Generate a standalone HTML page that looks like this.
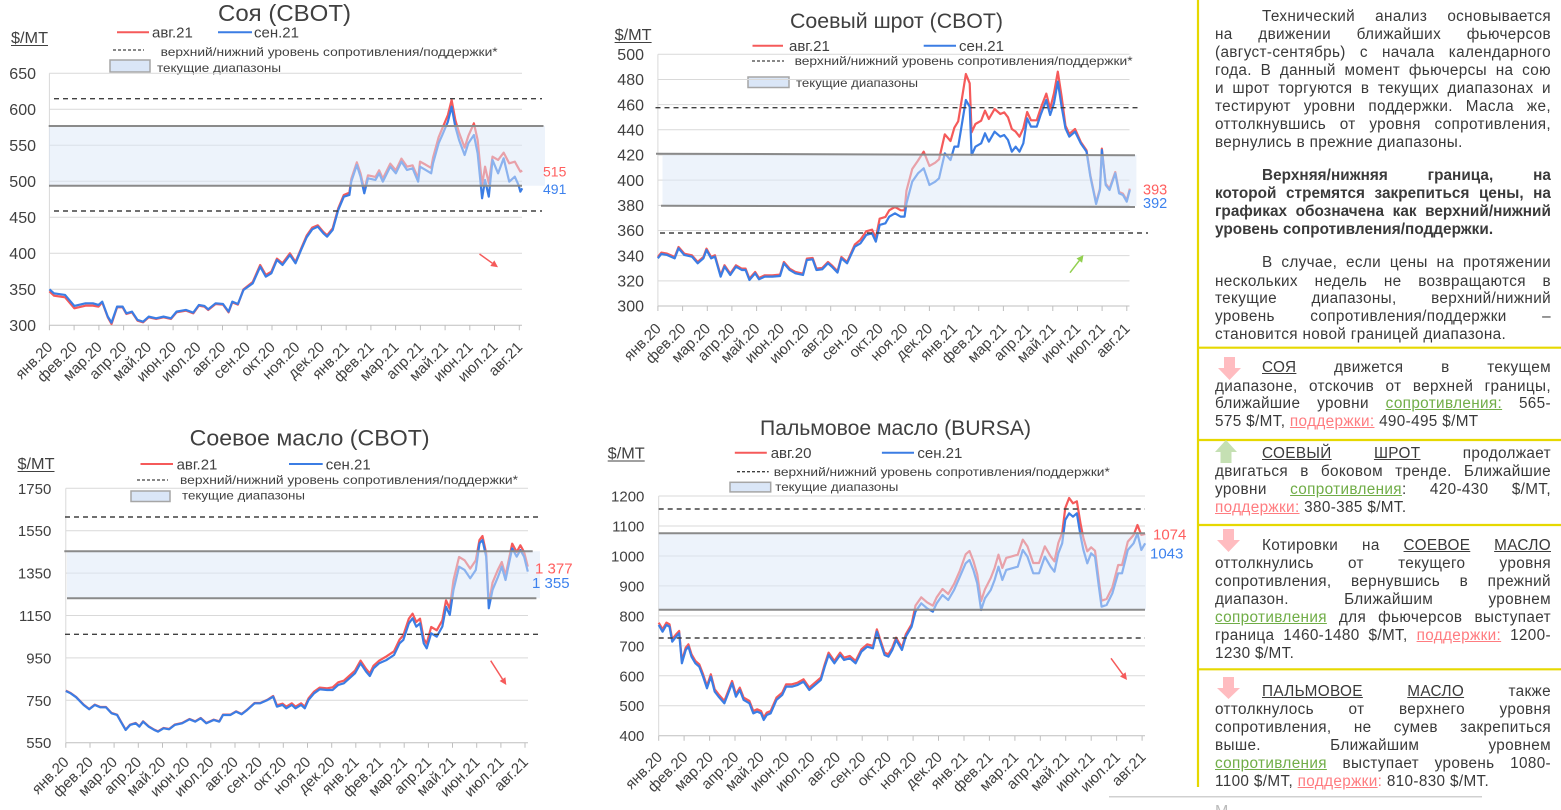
<!DOCTYPE html>
<html><head><meta charset="utf-8">
<style>
html,body{margin:0;padding:0;background:#fff;}
body{width:1561px;height:810px;overflow:hidden;position:relative;font-family:"Liberation Sans",sans-serif;}
svg text{font-family:"Liberation Sans",sans-serif;}
.ml{font-size:15px;fill:#404040;text-anchor:end}
.yl{font-size:16px;fill:#404040;text-anchor:end}
.yl2{font-size:15px;fill:#404040;text-anchor:end}
.g{stroke:#d9d9d9;stroke-width:1}
.ax{stroke:#bfbfbf;stroke-width:1;fill:none}
.d{stroke:#404040;stroke-width:1.4;stroke-dasharray:5 4}
.bl{stroke:#8a8a8a;stroke-width:2}
.band{fill:#dbe7f8;fill-opacity:.5}
.sr{fill:none;stroke:#f55a5a;stroke-width:2.2;stroke-linejoin:round;vector-effect:non-scaling-stroke}
.sb{fill:none;stroke:#3b7de4;stroke-width:2.2;stroke-linejoin:round;vector-effect:non-scaling-stroke}
.tt{fill:#404040}
.lg{font-size:15px;fill:#404040}
.ls{font-size:12px;fill:#404040}
.p{position:absolute;left:1215px;width:336px;height:18px;line-height:18px;font-size:15.3px;color:#3a3a3a;display:flex;justify-content:space-between;white-space:nowrap;letter-spacing:0.35px}
.p span{white-space:nowrap}
.i{left:1262px;width:289px}
.e{display:block}
.b{font-weight:bold;letter-spacing:0.05px}
.gr{color:#70ad47;text-decoration:underline}
.rd{color:#ff7c80;text-decoration:underline}
.u{text-decoration:underline}
</style></head>
<body>
<svg width="1561" height="810" style="position:absolute;left:0;top:0">
<!-- ============ CHART 1 ============ -->
<text x="218" y="21" font-size="23" class="tt" textLength="133" lengthAdjust="spacingAndGlyphs">Соя (CBOT)</text>
<text x="11" y="43" font-size="16" class="tt" textLength="37" lengthAdjust="spacingAndGlyphs">$/MT</text>
<line x1="11" y1="45.5" x2="48" y2="45.5" stroke="#404040" stroke-width="1"/>
<line x1="117" y1="32.3" x2="149" y2="32.3" stroke="#f55a5a" stroke-width="2"/>
<text x="152" y="37.5" class="lg">авг.21</text>
<line x1="218" y1="32.3" x2="252" y2="32.3" stroke="#3b7de4" stroke-width="2"/>
<text x="254" y="37.5" class="lg">сен.21</text>
<line x1="113" y1="50" x2="144" y2="50" stroke="#404040" stroke-width="1.3" stroke-dasharray="3 2"/>
<text x="160.6" y="56" class="ls" textLength="337" lengthAdjust="spacingAndGlyphs">верхний/нижний уровень сопротивления/поддержки*</text>
<rect x="110" y="60" width="40" height="12" fill="#dae6f7" stroke="#a6a6a6" stroke-width="1.5"/>
<text x="157" y="72" class="ls" textLength="124" lengthAdjust="spacingAndGlyphs">текущие диапазоны</text>
<g class="g">
<line x1="49.4" x2="522" y1="289.3" y2="289.3"/><line x1="49.4" x2="522" y1="253.3" y2="253.3"/>
<line x1="49.4" x2="522" y1="217.3" y2="217.3"/><line x1="49.4" x2="522" y1="181.3" y2="181.3"/>
<line x1="49.4" x2="522" y1="145.3" y2="145.3"/><line x1="49.4" x2="522" y1="109.3" y2="109.3"/>
<line x1="49.4" x2="522" y1="73.3" y2="73.3"/>
<line x1="49.4" x2="49.4" y1="73.3" y2="325.3"/>
</g>
<line x1="49.4" x2="522" y1="325.3" y2="325.3" class="ax"/>
<path class="ax" d="M49.4,325.3v5M74.1,325.3v5M98.9,325.3v5M123.6,325.3v5M148.3,325.3v5M173.1,325.3v5M197.8,325.3v5M222.5,325.3v5M247.2,325.3v5M272,325.3v5M296.7,325.3v5M321.4,325.3v5M346.2,325.3v5M370.9,325.3v5M395.6,325.3v5M420.4,325.3v5M445.1,325.3v5M469.8,325.3v5M494.5,325.3v5M519.3,325.3v5"/>
<text class="yl" x="36" y="79">650</text><text class="yl" x="36" y="115">600</text>
<text class="yl" x="36" y="151">550</text><text class="yl" x="36" y="187">500</text>
<text class="yl" x="36" y="223">450</text><text class="yl" x="36" y="259">400</text>
<text class="yl" x="36" y="295">350</text><text class="yl" x="36" y="331">300</text>
<g class="ml">
<text transform="translate(53.4,348) rotate(-45)">янв.20</text>
<text transform="translate(78.1,348) rotate(-45)">фев.20</text>
<text transform="translate(102.9,348) rotate(-45)">мар.20</text>
<text transform="translate(127.6,348) rotate(-45)">апр.20</text>
<text transform="translate(152.3,348) rotate(-45)">май.20</text>
<text transform="translate(177.1,348) rotate(-45)">июн.20</text>
<text transform="translate(201.8,348) rotate(-45)">июл.20</text>
<text transform="translate(226.5,348) rotate(-45)">авг.20</text>
<text transform="translate(251.2,348) rotate(-45)">сен.20</text>
<text transform="translate(276,348) rotate(-45)">окт.20</text>
<text transform="translate(300.7,348) rotate(-45)">ноя.20</text>
<text transform="translate(325.4,348) rotate(-45)">дек.20</text>
<text transform="translate(350.2,348) rotate(-45)">янв.21</text>
<text transform="translate(374.9,348) rotate(-45)">фев.21</text>
<text transform="translate(399.6,348) rotate(-45)">мар.21</text>
<text transform="translate(424.4,348) rotate(-45)">апр.21</text>
<text transform="translate(449.1,348) rotate(-45)">май.21</text>
<text transform="translate(473.8,348) rotate(-45)">июн.21</text>
<text transform="translate(498.5,348) rotate(-45)">июл.21</text>
<text transform="translate(523.3,348) rotate(-45)">авг.21</text>
</g>
<g transform="scale(0.3717,0.3333)">
<polyline class="sr" points="133,874 145,887 175,892 200,925 230,917 250,917 265,920 275,907 290,952 300,972 315,922 330,922 340,942 355,937 370,962 385,967 400,952 420,957 440,952 460,957 475,937 500,932 520,940 535,917 550,920 560,930 580,912 600,914 615,937 625,907 640,914 655,868 680,846 700,795 715,825 730,815 745,776 760,790 780,760 795,786 810,746 825,707 840,683 855,676 870,696 880,706 895,685 910,625 925,585 940,578 945,537 960,487 970,520 980,570 990,526 1010,531 1020,511 1030,536 1050,491 1065,511 1080,476 1095,500 1110,496 1125,535 1130,485 1145,494 1160,504 1165,473 1180,412 1190,385 1205,345 1215,300 1225,360 1235,398 1250,443 1260,408 1275,370 1285,420 1297,555 1305,500 1315,550 1325,470 1340,480 1355,458 1370,490 1385,485 1395,505 1400,515 1405,512"/>
<polyline class="sb" points="133,868 145,880 175,885 200,918 230,910 250,910 265,915 275,905 290,950 300,968 315,920 330,920 340,940 355,935 370,960 385,965 400,950 420,955 440,950 460,955 475,935 500,930 520,938 535,915 550,918 560,928 580,910 600,912 615,935 625,905 640,912 655,870 680,850 700,800 715,830 730,820 745,780 760,795 780,765 795,790 810,750 825,712 840,688 855,680 870,700 880,710 895,690 910,630 925,590 940,585 945,545 960,495 970,530 980,580 990,535 1010,540 1020,520 1030,545 1050,500 1065,520 1080,485 1095,510 1110,505 1125,545 1130,500 1145,510 1160,520 1165,490 1180,430 1190,405 1205,365 1215,320 1225,380 1235,420 1250,465 1260,430 1275,405 1285,460 1297,595 1305,540 1315,590 1325,480 1340,520 1355,475 1370,545 1385,530 1395,555 1400,575 1405,565"/>
</g>
<rect class="band" x="49" y="126" width="496" height="59.7"/>
<line class="bl" x1="48.7" y1="126" x2="543.5" y2="126"/>
<line class="bl" x1="49" y1="185.7" x2="522" y2="185.7"/>
<line class="d" x1="54" y1="98.7" x2="542" y2="98.7"/>
<line class="d" x1="54" y1="211" x2="542" y2="211"/>
<text x="543" y="176.5" font-size="14" fill="#ff5f5f">515</text>
<text x="543" y="194" font-size="14" fill="#3d82ee">491</text>
<line x1="479.5" y1="254" x2="492.3" y2="263.2" stroke="#f55a5a" stroke-width="1.5"/>
<polygon points="498,267.3 490.3,266 494.3,260.4" fill="#f55a5a"/>

<!-- ============ CHART 2 ============ -->
<text x="790" y="28" font-size="21" class="tt" textLength="213" lengthAdjust="spacingAndGlyphs">Соевый шрот (CBOT)</text>
<text x="614.6" y="40" font-size="16" class="tt" textLength="37" lengthAdjust="spacingAndGlyphs">$/MT</text>
<line x1="614.6" y1="42.5" x2="651.6" y2="42.5" stroke="#404040" stroke-width="1"/>
<line x1="752.5" y1="45.7" x2="783" y2="45.7" stroke="#f55a5a" stroke-width="2"/>
<text x="789" y="51" class="lg">авг.21</text>
<line x1="923.7" y1="45.7" x2="956" y2="45.7" stroke="#3b7de4" stroke-width="2"/>
<text x="959" y="51" class="lg">сен.21</text>
<line x1="752" y1="61" x2="784" y2="61" stroke="#404040" stroke-width="1.3" stroke-dasharray="3 2"/>
<text x="794.6" y="65" class="ls" textLength="338" lengthAdjust="spacingAndGlyphs">верхний/нижний уровень сопротивления/поддержки*</text>
<rect x="748" y="77" width="41" height="10.5" fill="#dae6f7" stroke="#a6a6a6" stroke-width="1.5"/>
<text x="796" y="87" class="ls" textLength="122" lengthAdjust="spacingAndGlyphs">текущие диапазоны</text>
<g class="g">
<line x1="657.9" x2="1129.5" y1="280.83" y2="280.83"/><line x1="657.9" x2="1129.5" y1="255.66" y2="255.66"/>
<line x1="657.9" x2="1129.5" y1="230.49" y2="230.49"/><line x1="657.9" x2="1129.5" y1="205.32" y2="205.32"/>
<line x1="657.9" x2="1129.5" y1="180.15" y2="180.15"/><line x1="657.9" x2="1129.5" y1="154.98" y2="154.98"/>
<line x1="657.9" x2="1129.5" y1="129.81" y2="129.81"/><line x1="657.9" x2="1129.5" y1="104.64" y2="104.64"/>
<line x1="657.9" x2="1129.5" y1="79.47" y2="79.47"/><line x1="657.9" x2="1129.5" y1="54.3" y2="54.3"/>
<line x1="657.9" x2="657.9" y1="54.3" y2="306"/>
</g>
<line x1="657.9" x2="1129.5" y1="306" y2="306" class="ax"/>
<path class="ax" d="M657.9,306v5M682.6,306v5M707.3,306v5M731.9,306v5M756.6,306v5M781.3,306v5M806,306v5M830.7,306v5M855.3,306v5M880,306v5M904.7,306v5M929.4,306v5M954.1,306v5M978.7,306v5M1003.4,306v5M1028.1,306v5M1052.8,306v5M1077.5,306v5M1102.1,306v5M1126.8,306v5"/>
<text class="yl" x="644" y="60">500</text><text class="yl" x="644" y="85.2">480</text>
<text class="yl" x="644" y="110.3">460</text><text class="yl" x="644" y="135.5">440</text>
<text class="yl" x="644" y="160.7">420</text><text class="yl" x="644" y="185.9">400</text>
<text class="yl" x="644" y="211">380</text><text class="yl" x="644" y="236.2">360</text>
<text class="yl" x="644" y="261.4">340</text><text class="yl" x="644" y="286.5">320</text>
<text class="yl" x="644" y="311.7">300</text>
<g class="ml">
<text transform="translate(661.9,329.5) rotate(-45)">янв.20</text>
<text transform="translate(686.6,329.5) rotate(-45)">фев.20</text>
<text transform="translate(711.3,329.5) rotate(-45)">мар.20</text>
<text transform="translate(735.9,329.5) rotate(-45)">апр.20</text>
<text transform="translate(760.6,329.5) rotate(-45)">май.20</text>
<text transform="translate(785.3,329.5) rotate(-45)">июн.20</text>
<text transform="translate(810,329.5) rotate(-45)">июл.20</text>
<text transform="translate(834.7,329.5) rotate(-45)">авг.20</text>
<text transform="translate(859.3,329.5) rotate(-45)">сен.20</text>
<text transform="translate(884,329.5) rotate(-45)">окт.20</text>
<text transform="translate(908.7,329.5) rotate(-45)">ноя.20</text>
<text transform="translate(933.4,329.5) rotate(-45)">дек.20</text>
<text transform="translate(958.1,329.5) rotate(-45)">янв.21</text>
<text transform="translate(982.7,329.5) rotate(-45)">фев.21</text>
<text transform="translate(1007.4,329.5) rotate(-45)">мар.21</text>
<text transform="translate(1032.1,329.5) rotate(-45)">апр.21</text>
<text transform="translate(1056.8,329.5) rotate(-45)">май.21</text>
<text transform="translate(1081.5,329.5) rotate(-45)">июн.21</text>
<text transform="translate(1106.1,329.5) rotate(-45)">июл.21</text>
<text transform="translate(1130.8,329.5) rotate(-45)">авг.21</text>
</g>
<g transform="translate(600,0) scale(0.3831,0.3333)">
<polyline class="sr" points="151,771 160,758 175,761 195,771 205,741 220,761 240,766 255,786 270,771 278,746 290,771 300,766 315,826 325,796 340,821 355,796 370,806 380,806 390,836 405,816 415,834 430,826 450,826 470,824 480,786 495,806 510,816 530,821 540,776 555,774 565,806 580,804 595,786 605,796 620,814 630,771 645,786 665,734 680,719 695,694 710,689 720,714 730,656 745,651 755,631 770,621 785,631 795,631 800,572 815,507 830,482 845,455 860,498 875,488 885,478 900,403 915,423 925,383 935,364 945,294 955,222 965,250 970,397 980,372 995,362 1005,332 1015,357 1030,327 1045,342 1055,337 1065,352 1075,387 1085,395 1095,410 1105,385 1115,336 1125,361 1140,361 1150,326 1165,281 1175,326 1185,280 1195,215 1205,290 1215,377 1225,402 1240,387 1255,426 1270,451 1280,526 1295,608 1305,566 1310,446 1320,551 1330,566 1345,516 1355,576 1365,581 1375,601 1383,566"/>
<polyline class="sb" points="151,775 160,762 175,765 195,775 205,745 220,765 240,770 255,790 270,775 278,750 290,775 300,770 315,830 325,800 340,825 355,800 370,810 380,810 390,840 405,820 415,838 430,830 450,830 470,828 480,790 495,810 510,820 530,825 540,780 555,778 565,810 580,808 595,790 605,800 620,818 630,775 645,790 665,740 680,730 695,705 710,700 720,725 730,675 745,670 755,650 770,640 785,650 795,650 800,610 815,545 830,520 845,505 860,555 875,545 885,535 900,460 915,480 925,440 935,440 945,370 955,300 965,320 970,465 980,440 995,430 1005,400 1015,425 1030,395 1045,410 1055,405 1065,420 1075,455 1085,440 1095,455 1105,430 1115,355 1125,380 1140,380 1150,345 1165,300 1175,345 1185,310 1195,245 1205,320 1215,385 1225,410 1240,395 1255,430 1270,455 1280,530 1295,612 1305,570 1310,450 1320,555 1330,570 1345,520 1355,580 1365,585 1375,605 1383,570"/>
</g>
<rect class="band" x="662.5" y="155" width="473.9" height="51"/>
<line class="bl" x1="656" y1="153.7" x2="1135" y2="155.3"/>
<line class="bl" x1="661" y1="205.7" x2="1135" y2="207"/>
<line class="d" x1="655.5" y1="107.7" x2="1141" y2="107.7"/>
<line class="d" x1="660" y1="233" x2="1148" y2="233"/>
<text x="1143" y="194.3" font-size="14.5" fill="#ff5f5f">393</text>
<text x="1143" y="207.8" font-size="14.5" fill="#3d82ee">392</text>
<line x1="1070" y1="272.7" x2="1079.3" y2="260.6" stroke="#92d050" stroke-width="1.5"/>
<polygon points="1083.5,255 1082.1,262.7 1076.5,258.5" fill="#92d050"/>

<!-- ============ CHART 3 ============ -->
<text x="189.6" y="445.5" font-size="22" class="tt" textLength="240" lengthAdjust="spacingAndGlyphs">Соевое масло (CBOT)</text>
<text x="17.5" y="469" font-size="16" class="tt" textLength="37" lengthAdjust="spacingAndGlyphs">$/MT</text>
<line x1="17.5" y1="471.5" x2="54.5" y2="471.5" stroke="#404040" stroke-width="1"/>
<line x1="140.5" y1="464" x2="173" y2="464" stroke="#f55a5a" stroke-width="2"/>
<text x="176.6" y="469.5" class="lg">авг.21</text>
<line x1="289" y1="464" x2="322.7" y2="464" stroke="#3b7de4" stroke-width="2"/>
<text x="325.7" y="469.5" class="lg">сен.21</text>
<line x1="137" y1="480" x2="168" y2="480" stroke="#404040" stroke-width="1.3" stroke-dasharray="3 2"/>
<text x="180" y="484" class="ls" textLength="338" lengthAdjust="spacingAndGlyphs">верхний/нижний уровень сопротивления/поддержки*</text>
<rect x="131" y="491" width="39" height="10.5" fill="#dae6f7" stroke="#a6a6a6" stroke-width="1.5"/>
<text x="182" y="499.5" class="ls" textLength="123" lengthAdjust="spacingAndGlyphs">текущие диапазоны</text>
<g class="g">
<line x1="65.8" x2="528" y1="700.3" y2="700.3"/><line x1="65.8" x2="528" y1="657.9" y2="657.9"/>
<line x1="65.8" x2="528" y1="615.5" y2="615.5"/><line x1="65.8" x2="528" y1="573.1" y2="573.1"/>
<line x1="65.8" x2="528" y1="530.7" y2="530.7"/><line x1="65.8" x2="528" y1="488.3" y2="488.3"/>
<line x1="65.8" x2="65.8" y1="488.3" y2="742.7"/>
</g>
<line x1="65.8" x2="528" y1="742.7" y2="742.7" class="ax"/>
<path class="ax" d="M65.8,742.7v5M90,742.7v5M114.1,742.7v5M138.3,742.7v5M162.5,742.7v5M186.7,742.7v5M210.8,742.7v5M235,742.7v5M259.2,742.7v5M283.3,742.7v5M307.5,742.7v5M331.7,742.7v5M355.8,742.7v5M380,742.7v5M404.2,742.7v5M428.4,742.7v5M452.5,742.7v5M476.7,742.7v5M500.9,742.7v5M525,742.7v5"/>
<text class="yl2" x="51.3" y="493.8">1750</text><text class="yl2" x="51.3" y="536.2">1550</text>
<text class="yl2" x="51.3" y="578.6">1350</text><text class="yl2" x="51.3" y="621">1150</text>
<text class="yl2" x="51.3" y="663.4">950</text><text class="yl2" x="51.3" y="705.8">750</text>
<text class="yl2" x="51.3" y="748.2">550</text>
<g class="ml">
<text transform="translate(69.8,763) rotate(-45)">янв.20</text>
<text transform="translate(94,763) rotate(-45)">фев.20</text>
<text transform="translate(118.1,763) rotate(-45)">мар.20</text>
<text transform="translate(142.3,763) rotate(-45)">апр.20</text>
<text transform="translate(166.5,763) rotate(-45)">май.20</text>
<text transform="translate(190.7,763) rotate(-45)">июн.20</text>
<text transform="translate(214.8,763) rotate(-45)">июл.20</text>
<text transform="translate(239,763) rotate(-45)">авг.20</text>
<text transform="translate(263.2,763) rotate(-45)">сен.20</text>
<text transform="translate(287.3,763) rotate(-45)">окт.20</text>
<text transform="translate(311.5,763) rotate(-45)">ноя.20</text>
<text transform="translate(335.7,763) rotate(-45)">дек.20</text>
<text transform="translate(359.8,763) rotate(-45)">янв.21</text>
<text transform="translate(384,763) rotate(-45)">фев.21</text>
<text transform="translate(408.2,763) rotate(-45)">мар.21</text>
<text transform="translate(432.4,763) rotate(-45)">апр.21</text>
<text transform="translate(456.5,763) rotate(-45)">май.21</text>
<text transform="translate(480.7,763) rotate(-45)">июн.21</text>
<text transform="translate(504.9,763) rotate(-45)">июл.21</text>
<text transform="translate(529,763) rotate(-45)">авг.21</text>
</g>
<g transform="translate(0,410) scale(0.3717,0.3333)">
<polyline class="sr" points="177,842 190,849 205,861 225,884 240,897 255,884 270,891 285,891 300,909 315,914 325,934 338,959 350,944 365,939 375,949 385,934 400,949 415,959 425,964 440,954 455,957 470,944 490,939 510,927 525,934 540,924 555,939 575,929 590,934 600,914 620,914 635,904 650,912 665,899 685,879 700,879 720,869 735,858 745,886 760,881 770,890 785,880 795,890 810,880 820,890 830,865 845,845 860,833 880,835 895,832 910,817 925,812 940,797 955,782 970,752 985,777 995,790 1005,767 1020,752 1040,739 1060,724 1075,689 1085,676 1100,626 1110,611 1120,636 1130,626 1140,686 1148,701 1160,651 1175,661 1190,631 1200,571 1210,596 1220,511 1235,441 1250,451 1265,476 1280,451 1290,390 1298,378 1308,430 1315,585 1325,518 1340,478 1350,456 1360,496 1378,401 1390,426 1400,406 1410,426 1420,470"/>
<polyline class="sb" points="177,843 190,850 205,862 225,885 240,898 255,885 270,892 285,892 300,910 315,915 325,935 338,960 350,945 365,940 375,950 385,935 400,950 415,960 425,965 440,955 455,958 470,945 490,940 510,928 525,935 540,925 555,940 575,930 590,935 600,915 620,915 635,905 650,913 665,900 685,880 700,880 720,870 735,860 745,890 760,885 770,895 785,885 795,895 810,885 820,895 830,870 845,850 860,838 880,840 895,840 910,825 925,820 940,805 955,790 970,760 985,785 995,798 1005,775 1020,760 1040,750 1060,735 1075,700 1085,690 1100,640 1110,625 1120,650 1130,640 1140,700 1148,715 1160,670 1175,680 1190,650 1200,590 1210,615 1220,540 1235,470 1250,480 1265,505 1280,480 1290,400 1298,390 1308,440 1315,595 1325,540 1340,500 1350,470 1360,510 1378,415 1390,440 1400,420 1410,440 1420,485"/>
</g>
<rect class="band" x="67" y="551.3" width="473" height="47"/>
<line class="bl" x1="64.3" y1="551.3" x2="532.7" y2="551.3"/>
<line class="bl" x1="67" y1="598.3" x2="536.4" y2="598.3"/>
<line class="d" x1="65" y1="517" x2="538" y2="517"/>
<line class="d" x1="65" y1="634.3" x2="538" y2="634.3"/>
<text x="535" y="573.5" font-size="15" fill="#ff5f5f">1 377</text>
<text x="532" y="588" font-size="15" fill="#3d82ee">1 355</text>
<line x1="490.7" y1="660.7" x2="502.5" y2="679.1" stroke="#f55a5a" stroke-width="1.5"/>
<polygon points="506.3,685 499.6,681 505.4,677.2" fill="#f55a5a"/>

<!-- ============ CHART 4 ============ -->
<text x="760" y="435" font-size="21" class="tt" textLength="271" lengthAdjust="spacingAndGlyphs">Пальмовое масло (BURSA)</text>
<text x="607.7" y="458.5" font-size="16" class="tt" textLength="37" lengthAdjust="spacingAndGlyphs">$/MT</text>
<line x1="607.7" y1="461" x2="644.7" y2="461" stroke="#404040" stroke-width="1"/>
<line x1="734.8" y1="452.7" x2="766.8" y2="452.7" stroke="#f55a5a" stroke-width="2"/>
<text x="770.7" y="458" class="lg">авг.20</text>
<line x1="881.9" y1="452.7" x2="914" y2="452.7" stroke="#3b7de4" stroke-width="2"/>
<text x="917.4" y="458" class="lg">сен.21</text>
<line x1="737" y1="471.7" x2="768.7" y2="471.7" stroke="#404040" stroke-width="1.3" stroke-dasharray="3 2"/>
<text x="773.8" y="476" class="ls" textLength="336" lengthAdjust="spacingAndGlyphs">верхний/нижний уровень сопротивления/поддержки*</text>
<rect x="730" y="482.3" width="40.7" height="9.6" fill="#dae6f7" stroke="#a6a6a6" stroke-width="1.5"/>
<text x="775.3" y="491" class="ls" textLength="123" lengthAdjust="spacingAndGlyphs">текущие диапазоны</text>
<g class="g">
<line x1="658.7" x2="1145" y1="705.74" y2="705.74"/><line x1="658.7" x2="1145" y1="675.78" y2="675.78"/>
<line x1="658.7" x2="1145" y1="645.82" y2="645.82"/><line x1="658.7" x2="1145" y1="615.86" y2="615.86"/>
<line x1="658.7" x2="1145" y1="585.9" y2="585.9"/><line x1="658.7" x2="1145" y1="555.94" y2="555.94"/>
<line x1="658.7" x2="1145" y1="525.98" y2="525.98"/><line x1="658.7" x2="1145" y1="496.02" y2="496.02"/>
<line x1="658.7" x2="658.7" y1="496" y2="735.7"/>
</g>
<line x1="658.7" x2="1145" y1="735.7" y2="735.7" class="ax"/>
<path class="ax" d="M658.7,735.7v5M684.1,735.7v5M709.6,735.7v5M735,735.7v5M760.5,735.7v5M785.9,735.7v5M811.3,735.7v5M836.8,735.7v5M862.2,735.7v5M887.7,735.7v5M913.1,735.7v5M938.5,735.7v5M964,735.7v5M989.4,735.7v5M1014.9,735.7v5M1040.3,735.7v5M1065.7,735.7v5M1091.2,735.7v5M1116.6,735.7v5M1142.1,735.7v5"/>
<text class="yl2" x="644.4" y="501.5">1200</text><text class="yl2" x="644.4" y="531.5">1100</text>
<text class="yl2" x="644.4" y="561.4">1000</text><text class="yl2" x="644.4" y="591.4">900</text>
<text class="yl2" x="644.4" y="621.4">800</text><text class="yl2" x="644.4" y="651.3">700</text>
<text class="yl2" x="644.4" y="681.3">600</text><text class="yl2" x="644.4" y="711.2">500</text>
<text class="yl2" x="644.4" y="741.2">400</text>
<g class="ml">
<text transform="translate(663.2,758) rotate(-45)">янв.20</text>
<text transform="translate(688.6,758) rotate(-45)">фев.20</text>
<text transform="translate(714.1,758) rotate(-45)">мар.20</text>
<text transform="translate(739.5,758) rotate(-45)">апр.20</text>
<text transform="translate(765,758) rotate(-45)">май.20</text>
<text transform="translate(790.4,758) rotate(-45)">июн.20</text>
<text transform="translate(815.8,758) rotate(-45)">июл.20</text>
<text transform="translate(841.3,758) rotate(-45)">авг.20</text>
<text transform="translate(866.7,758) rotate(-45)">сен.20</text>
<text transform="translate(892.2,758) rotate(-45)">окт.20</text>
<text transform="translate(917.6,758) rotate(-45)">ноя.20</text>
<text transform="translate(943,758) rotate(-45)">дек.20</text>
<text transform="translate(968.5,758) rotate(-45)">янв.21</text>
<text transform="translate(993.9,758) rotate(-45)">фев.21</text>
<text transform="translate(1019.4,758) rotate(-45)">мар.21</text>
<text transform="translate(1044.8,758) rotate(-45)">апр.21</text>
<text transform="translate(1070.2,758) rotate(-45)">май.21</text>
<text transform="translate(1095.7,758) rotate(-45)">июн.21</text>
<text transform="translate(1121.1,758) rotate(-45)">июл.21</text>
<text transform="translate(1146.6,758) rotate(-45)">авг.21</text>
</g>
<g transform="translate(595,410) scale(0.3861,0.3333)">
<polyline class="sr" points="165,638 175,658 185,638 193,643 200,688 210,673 218,663 225,753 235,713 242,703 250,733 260,753 270,763 280,793 290,828 300,793 310,838 320,853 335,873 345,843 355,813 365,853 375,833 385,863 400,873 410,903 420,898 430,903 437,923 445,908 455,903 470,863 485,848 495,823 510,823 525,818 540,808 555,833 570,818 585,803 595,763 605,728 620,753 635,728 645,743 660,738 675,753 690,718 705,703 720,708 730,658 740,693 750,728 760,733 770,713 780,683 795,713 805,673 820,643 830,587 845,562 860,577 875,587 885,562 900,537 915,552 930,522 945,482 960,433 970,423 980,453 990,493 1000,573 1010,538 1025,504 1035,474 1045,434 1055,474 1065,444 1080,439 1095,434 1108,389 1120,409 1135,459 1150,459 1165,409 1180,439 1190,454 1200,399 1210,369 1218,294 1228,264 1238,280 1248,274 1258,344 1265,384 1275,424 1285,412 1295,422 1305,512 1312,572 1325,567 1340,532 1355,465 1365,465 1380,395 1395,375 1405,345 1415,375 1425,372"/>
<polyline class="sb" points="165,645 175,665 185,645 193,650 200,695 210,680 218,670 225,760 235,720 242,710 250,740 260,760 270,770 280,800 290,835 300,800 310,845 320,860 335,880 345,850 355,820 365,860 375,840 385,870 400,880 410,910 420,905 430,910 437,930 445,915 455,910 470,870 485,855 495,830 510,830 525,825 540,815 555,840 570,825 585,810 595,770 605,735 620,760 635,735 645,750 660,745 675,760 690,725 705,710 720,715 730,665 740,700 750,735 760,740 770,720 780,690 795,720 805,680 820,650 830,605 845,580 860,595 875,605 885,580 900,555 915,570 930,540 945,500 960,460 970,450 980,480 990,520 1000,600 1010,565 1025,540 1035,510 1045,470 1055,510 1065,480 1080,475 1095,470 1108,420 1120,440 1135,490 1150,490 1165,440 1180,470 1190,485 1200,430 1210,400 1218,330 1228,310 1238,320 1248,310 1258,380 1265,420 1275,460 1285,430 1295,440 1305,530 1312,590 1325,585 1340,550 1355,490 1365,490 1380,420 1395,400 1405,370 1415,420 1425,400"/>
</g>
<rect class="band" x="658.7" y="533.3" width="487.3" height="76.4"/>
<line class="bl" x1="658.7" y1="533.3" x2="1145" y2="533.3"/>
<line class="bl" x1="658.7" y1="609.7" x2="1145" y2="609.7"/>
<line class="d" x1="658.7" y1="509" x2="1145" y2="509"/>
<line class="d" x1="658.7" y1="638" x2="1145" y2="638"/>
<text x="1153" y="539.5" font-size="15" fill="#ff5f5f">1074</text>
<text x="1150" y="558.5" font-size="15" fill="#3d82ee">1043</text>
<line x1="1111" y1="658.3" x2="1122.8" y2="674.4" stroke="#f55a5a" stroke-width="1.5"/>
<polygon points="1127,680 1120,676.5 1125.6,672.3" fill="#f55a5a"/>

<!-- ============ PANEL DECOR ============ -->
<line x1="1198" y1="0" x2="1198" y2="787" stroke="#e6d800" stroke-width="2.2"/>
<line x1="1198" y1="347.7" x2="1561" y2="347.7" stroke="#e6d800" stroke-width="2.2"/>
<line x1="1198" y1="440" x2="1561" y2="440" stroke="#e6d800" stroke-width="2.2"/>
<line x1="1198" y1="525" x2="1561" y2="525" stroke="#e6d800" stroke-width="2.2"/>
<line x1="1198" y1="669.3" x2="1561" y2="669.3" stroke="#e6d800" stroke-width="2.2"/>
<line x1="1109" y1="796.7" x2="1482" y2="796.7" stroke="#d0d0d0" stroke-width="1.5"/>
<text x="1215" y="816" font-size="16" fill="#bbbbbb">М</text>
<polygon points="1224,357 1235,357 1235,368 1241,368 1229.5,380 1218,368 1224,368" fill="#ffbcc0"/>
<polygon points="1226,440 1237,452 1231.5,452 1231.5,463 1220.5,463 1220.5,452 1215,452" fill="#c5e0b3"/>
<polygon points="1223,529 1234,529 1234,540 1240,540 1228.5,552 1217,540 1223,540" fill="#ffbcc0"/>
<polygon points="1223,677 1234,677 1234,688 1240,688 1228.5,699 1217,688 1223,688" fill="#ffbcc0"/>
</svg>

<!-- ============ TEXT PANEL ============ -->
<div class="p i" style="top:7.7px"><span>Технический</span><span>анализ</span><span>основывается</span></div>
<div class="p" style="top:26px"><span>на</span><span>движении</span><span>ближайших</span><span>фьючерсов</span></div>
<div class="p" style="top:44.3px"><span>(август-сентябрь)</span><span>с</span><span>начала</span><span>календарного</span></div>
<div class="p" style="top:62px"><span>года.</span><span>В</span><span>данный</span><span>момент</span><span>фьючерсы</span><span>на</span><span>сою</span></div>
<div class="p" style="top:80.3px"><span>и</span><span>шрот</span><span>торгуются</span><span>в</span><span>текущих</span><span>диапазонах</span><span>и</span></div>
<div class="p" style="top:98.3px"><span>тестируют</span><span>уровни</span><span>поддержки.</span><span>Масла</span><span>же,</span></div>
<div class="p" style="top:116.3px"><span>оттолкнувшись</span><span>от</span><span>уровня</span><span>сопротивления,</span></div>
<div class="p e" style="top:134.3px">вернулись в прежние диапазоны.</div>

<div class="p i b" style="top:166.7px"><span>Верхняя/нижняя</span><span>граница,</span><span>на</span></div>
<div class="p b" style="top:185.3px"><span>которой</span><span>стремятся</span><span>закрепиться</span><span>цены,</span><span>на</span></div>
<div class="p b" style="top:203.3px"><span>графиках</span><span>обозначена</span><span>как</span><span>верхний/нижний</span></div>
<div class="p e b" style="top:221px">уровень сопротивления/поддержки.</div>

<div class="p i" style="top:254.3px"><span>В</span><span>случае,</span><span>если</span><span>цены</span><span>на</span><span>протяжении</span></div>
<div class="p" style="top:272.7px"><span>нескольких</span><span>недель</span><span>не</span><span>возвращаются</span><span>в</span></div>
<div class="p" style="top:290.3px"><span>текущие</span><span>диапазоны,</span><span>верхний/нижний</span></div>
<div class="p" style="top:308px"><span>уровень</span><span>сопротивления/поддержки</span><span>–</span></div>
<div class="p e" style="top:326px">становится новой границей диапазона.</div>

<div class="p i" style="top:359.3px"><span class="u">СОЯ</span><span>движется</span><span>в</span><span>текущем</span></div>
<div class="p" style="top:377.7px"><span>диапазоне,</span><span>отскочив</span><span>от</span><span>верхней</span><span>границы,</span></div>
<div class="p" style="top:395.3px"><span>ближайшие</span><span>уровни</span><span class="gr">сопротивления:</span><span>565-</span></div>
<div class="p e" style="top:413.3px">575 $/MT, <span class="rd">поддержки:</span> 490-495 $/MT</div>

<div class="p i" style="top:445px"><span class="u">СОЕВЫЙ</span><span class="u">ШРОТ</span><span>продолжает</span></div>
<div class="p" style="top:463px"><span>двигаться</span><span>в</span><span>боковом</span><span>тренде.</span><span>Ближайшие</span></div>
<div class="p" style="top:481px"><span>уровни</span><span><span class="gr">сопротивления</span>:</span><span>420-430</span><span>$/MT,</span></div>
<div class="p e" style="top:499px"><span class="rd">поддержки:</span> 380-385 $/MT.</div>

<div class="p i" style="top:536.7px"><span>Котировки</span><span>на</span><span class="u">СОЕВОЕ</span><span class="u">МАСЛО</span></div>
<div class="p" style="top:555.3px"><span>оттолкнулись</span><span>от</span><span>текущего</span><span>уровня</span></div>
<div class="p" style="top:573.3px"><span>сопротивления,</span><span>вернувшись</span><span>в</span><span>прежний</span></div>
<div class="p" style="top:591.3px"><span>диапазон.</span><span>Ближайшим</span><span>уровнем</span></div>
<div class="p" style="top:609.3px"><span class="gr">сопротивления</span><span>для</span><span>фьючерсов</span><span>выступает</span></div>
<div class="p" style="top:627.3px"><span>граница</span><span>1460-1480</span><span>$/MT,</span><span class="rd">поддержки:</span><span>1200-</span></div>
<div class="p e" style="top:645px">1230 $/MT.</div>

<div class="p i" style="top:683px"><span class="u">ПАЛЬМОВОЕ</span><span class="u">МАСЛО</span><span>также</span></div>
<div class="p" style="top:701px"><span>оттолкнулось</span><span>от</span><span>верхнего</span><span>уровня</span></div>
<div class="p" style="top:719px"><span>сопротивления,</span><span>не</span><span>сумев</span><span>закрепиться</span></div>
<div class="p" style="top:736.7px"><span>выше.</span><span>Ближайшим</span><span>уровнем</span></div>
<div class="p" style="top:755px"><span class="gr">сопротивления</span><span>выступает</span><span>уровень</span><span>1080-</span></div>
<div class="p e" style="top:772.7px">1100 $/MT, <span class="rd">поддержки</span><span style="color:#ff7c80">:</span> 810-830 $/MT.</div>
</body></html>
